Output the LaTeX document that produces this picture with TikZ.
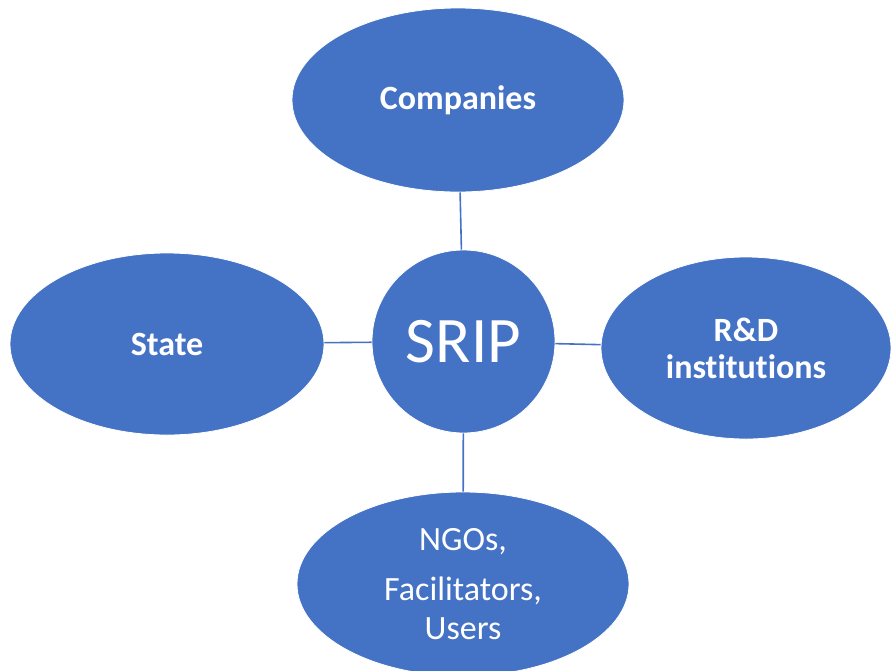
\documentclass[tikz,border=0pt]{standalone}
\usepackage{fontspec}
\setmainfont{Carlito}[Ligatures=NoCommon]
\usetikzlibrary{shapes.geometric}
\definecolor{sripblue}{HTML}{4472C4}

\begin{document}
\begin{tikzpicture}[x=1pt, y=-1pt,
  actor/.style={ellipse, fill=sripblue, draw=white, line width=0.8pt,
    inner sep=0pt, text=white, align=center,
    font=\fontsize{34}{37}\selectfont\bfseries},
  hub/.style={circle, fill=sripblue, draw=white, line width=0.8pt,
    inner sep=0pt, minimum size=183, text=white,
    font=\fontsize{65}{70}\selectfont},
  link/.style={draw=sripblue, line width=1.6pt}]
\clip (0,0) rectangle (892,670);
\useasboundingbox (0,0) rectangle (892,670);

\node[hub] (srip) at (463.5,341.5) {SRIP};
\node[actor, minimum width=332, minimum height=184] (companies) at (458,100) {Companies};
\node[actor, minimum width=314, minimum height=182] (state) at (167,344) {State};
\node[actor, minimum width=290, minimum height=182] (rnd) at (746,348) {R\&D\\institutions};
\node[actor, minimum width=332, minimum height=184, font=\fontsize{34}{39}\selectfont] (ngos) at (463,584)
  {NGOs,\\[11pt]Facilitators,\\Users};

% spokes
\draw[link] (companies) -- (srip);
\draw[link] (state) -- (srip);
\draw[link] (srip) -- (rnd);
\draw[link] (srip) -- (ngos);
\end{tikzpicture}
\end{document}
